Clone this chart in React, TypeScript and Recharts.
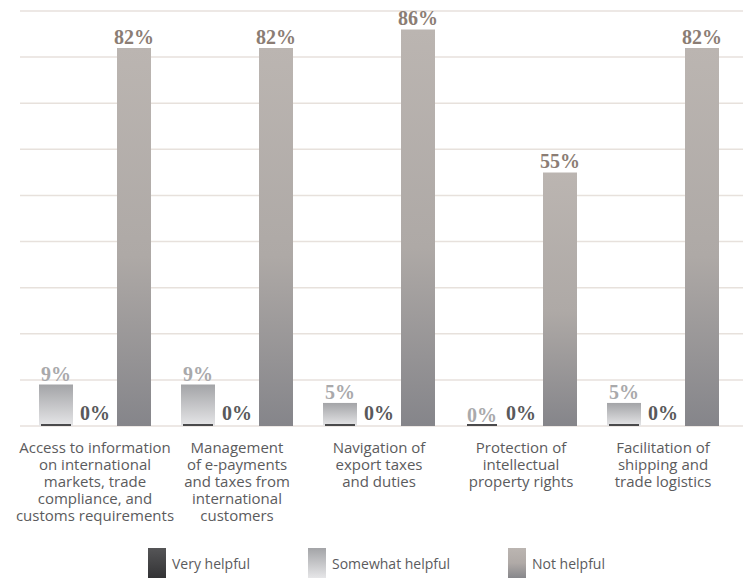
import React from 'react';
import { BarChart, Bar, XAxis, YAxis, CartesianGrid, LabelList } from 'recharts';

const categories = [
  'Access to information\non international\nmarkets, trade\ncompliance, and\ncustoms requirements',
  'Management\nof e-payments\nand taxes from\ninternational\ncustomers',
  'Navigation of\nexport taxes\nand duties',
  'Protection of\nintellectual\nproperty rights',
  'Facilitation of\nshipping and\ntrade logistics',
];
const veryHelpful = [0, 0, 0, 0, 0];
const somewhatHelpful = [9, 9, 5, 0, 5];
const notHelpful = [82, 82, 86, 55, 82];
const yTicks = [0, 10, 20, 30, 40, 50, 60, 70, 80, 90];

const data = categories.map((name, i) => ({
  name,
  very: veryHelpful[i],
  somewhat: somewhatHelpful[i],
  not: notHelpful[i],
}));

// legend order as in the original
const legendItems = [
  { label: 'Very helpful', bg: 'linear-gradient(#555557, #333335)', width: 160 },
  { label: 'Somewhat helpful', bg: 'linear-gradient(#a3a4a7, #e6e6e8)', width: 200 },
  { label: 'Not helpful', bg: 'linear-gradient(#bbb5b1, #b0aaa7 50%, #87878b)', width: 120 },
];

const labelFont = { fontFamily: '"Liberation Serif", serif', fontWeight: 700, fontSize: 20 };

const CategoryTick = (props: any) => {
  const { x, y, payload } = props;
  const lines = String(payload.value).split('\n');
  return (
    <g>
      {lines.map((line, i) => (
        <text
          key={i}
          x={x}
          y={y + 27 + i * 17}
          textAnchor="middle"
          fill="#5b5b5d"
          style={{ fontFamily: '"Open Sans", sans-serif', fontSize: 15 }}
        >
          {line}
        </text>
      ))}
    </g>
  );
};

// somewhat-helpful bar, with the very-helpful zero drawn as a dark strip at its foot
const SomewhatShape = (props: any) => {
  const { x, y, width, height } = props;
  const base = y + height;
  return (
    <g>
      {height > 0 && <rect x={x} y={y} width={width} height={height} fill="url(#gradSomewhat)" />}
      <rect x={x + 2} y={base - 2} width={width - 4} height={2} fill="#4a4a4c" />
    </g>
  );
};

// the very-helpful slot holds only its value label
const EmptyShape = () => <g />;

const ValueLabel = (props: any) => {
  const { x, y, width, height, value, color, gap } = props;
  const top = Number(y) + Math.min(0, Number(height) || 0);
  return (
    <text
      x={Number(x) + Number(width) / 2}
      y={top - gap}
      textAnchor="middle"
      fill={color}
      style={labelFont}
    >
      {`${value}%`}
    </text>
  );
};

const App = () => {
  return (
    <div style={{ position: 'absolute', left: 0, top: 0, width: 743, height: 583, background: '#fff' }}>
      <BarChart
        width={743}
        height={583}
        data={data}
        margin={{ top: 11, right: 0, left: 20, bottom: 127 }}
        barSize={34}
        barGap={5}
      >
        <defs>
          <linearGradient id="gradSomewhat" x1="0" y1="0" x2="0" y2="1">
            <stop offset="0%" stopColor="#a3a4a7" />
            <stop offset="100%" stopColor="#e6e6e8" />
          </linearGradient>
          <linearGradient id="gradNot" x1="0" y1="0" x2="0" y2="1">
            <stop offset="0%" stopColor="#bbb5b1" />
            <stop offset="55%" stopColor="#aea9a6" />
            <stop offset="100%" stopColor="#85858a" />
          </linearGradient>
        </defs>
        <CartesianGrid vertical={false} stroke="#e7e1dc" strokeWidth={1.5} />
        <XAxis
          dataKey="name"
          interval={0}
          axisLine={false}
          tickLine={false}
          tickSize={0}
          tickMargin={0}
          height={30}
          padding={{ left: 4, right: 9 }}
          tick={<CategoryTick />}
        />
        <YAxis hide domain={[0, 90]} ticks={yTicks} />
        <Bar dataKey="somewhat" name="Somewhat helpful" fill="url(#gradSomewhat)" shape={<SomewhatShape />} isAnimationActive={false}>
          <LabelList dataKey="somewhat" content={<ValueLabel color="#a9a9ab" gap={4} />} />
        </Bar>
        <Bar dataKey="very" name="Very helpful" fill="#4a4a4c" minPointSize={1} shape={<EmptyShape />} isAnimationActive={false}>
          <LabelList dataKey="very" content={<ValueLabel color="#59595b" gap={5} />} />
        </Bar>
        <Bar dataKey="not" name="Not helpful" fill="url(#gradNot)" isAnimationActive={false}>
          <LabelList dataKey="not" content={<ValueLabel color="#8b7d74" gap={4} />} />
        </Bar>
      </BarChart>
      <div style={{ position: 'absolute', left: 148, top: 548, display: 'flex', alignItems: 'center' }}>
        {legendItems.map((item) => (
          <div key={item.label} style={{ width: item.width, display: 'flex', alignItems: 'center' }}>
            <div style={{ width: 18, height: 30, background: item.bg }} />
            <span
              style={{
                marginLeft: 6,
                fontFamily: '"Open Sans", sans-serif',
                fontSize: 14,
                color: '#5b5b5d',
                whiteSpace: 'nowrap',
              }}
            >
              {item.label}
            </span>
          </div>
        ))}
      </div>
    </div>
  );
};

export default App;
